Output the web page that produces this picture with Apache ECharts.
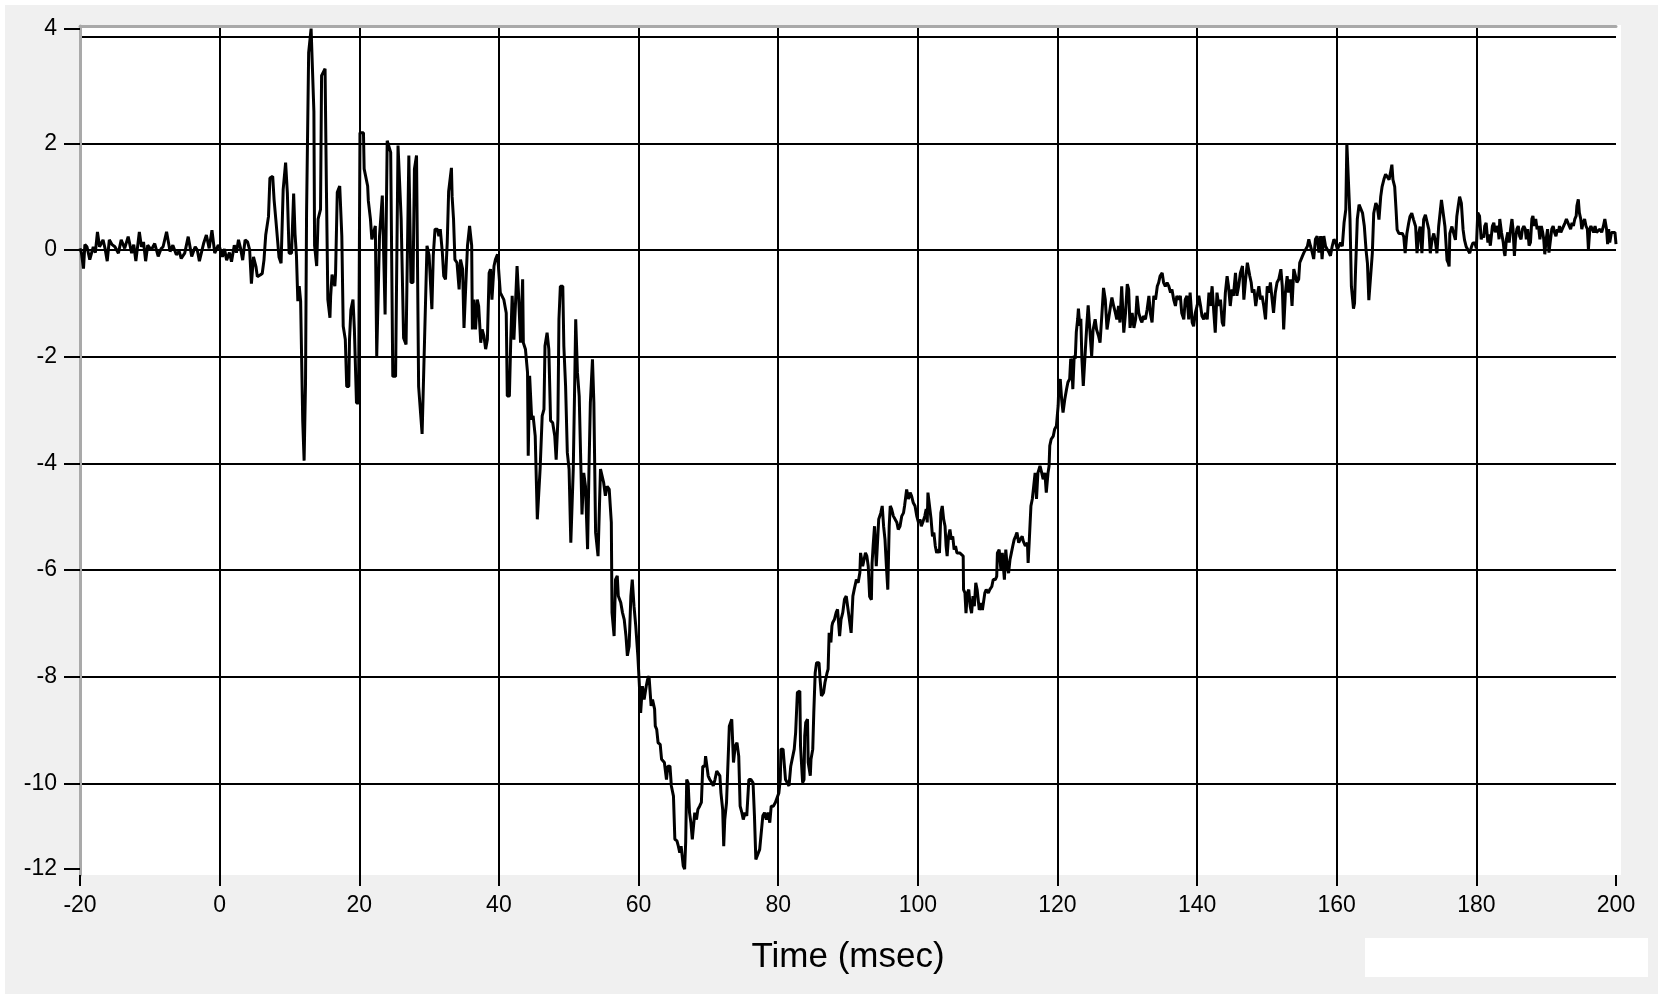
<!DOCTYPE html>
<html>
<head>
<meta charset="utf-8">
<script src="https://cdn.jsdelivr.net/npm/echarts@6/dist/echarts.min.js"></script>
<style>
html,body{margin:0;padding:0;background:#ffffff;}
#chart{width:1658px;height:994px;}
</style>
</head>
<body>
<div id="chart"></div>
<script>
// ---- DATA (time in msec, amplitude) ----
const segPre = [[-20.0,0.03],[-19.8,-0.05],[-19.5,-0.35],[-19.3,0.1],[-19.0,0.06],[-18.6,-0.18],[-18.1,0.06],[-17.8,-0.05],[-17.5,0.34],[-17.2,0.06],[-16.7,0.19],[-16.4,0.02],[-16.1,-0.21],[-15.8,0.19],[-15.4,0.1],[-15.0,0.06],[-14.5,-0.06],[-14.1,0.19],[-13.6,0.03],[-13.1,0.25],[-12.6,-0.06],[-12.3,0.1],[-12.0,-0.21],[-11.5,0.34],[-11.2,0.06],[-10.9,0.15],[-10.6,-0.21],[-10.3,0.09],[-9.8,0.0],[-9.3,0.12],[-8.8,-0.12],[-8.4,0.02],[-8.1,0.06],[-7.6,0.34],[-7.1,-0.03],[-6.7,0.09],[-6.2,-0.09],[-5.8,-0.02],[-5.5,-0.16],[-5.0,-0.06],[-4.5,0.25],[-4.0,-0.12],[-3.5,0.06],[-3.2,0.0],[-2.9,-0.21],[-2.3,0.12],[-1.9,0.28],[-1.5,0.03],[-1.1,0.37],[-0.7,-0.06],[-0.2,0.09]];

const segOnset = [[0.0,0.05],[0.4,-0.13],[0.7,0.02],[1.0,-0.19],[1.4,-0.05],[1.7,-0.22],[2.1,0.09],[2.4,-0.05],[2.7,0.19],[3.0,0.03],[3.3,-0.19],[3.65,0.19],[4.0,0.15],[4.3,0.0],[4.55,-0.63],[4.85,-0.13],[5.2,-0.31],[5.4,-0.5],[5.8,-0.47],[6.1,-0.44],[6.35,-0.19],[6.6,0.28],[6.85,0.31],[7.0,0.63],[7.2,1.35],[7.6,1.38],[7.8,0.94],[8.05,0.57],[8.3,0.54],[8.5,-0.13],[8.8,-0.25],[9.1,1.13],[9.45,1.64],[9.7,1.07],[9.95,-0.06],[10.3,-0.06],[10.6,1.06],[10.8,0.3],[11.0,-0.1],[11.2,-0.96],[11.4,-0.68],[11.6,-0.96],[11.9,-3.2],[12.1,-3.95],[12.3,-2.5],[12.45,0.7],[12.75,3.7],[13.1,4.15],[13.5,2.6],[13.6,0.08],[13.9,-0.3],[14.1,0.58],[14.45,0.76],[14.6,3.27],[15.1,3.4],[15.3,1.08],[15.5,-0.93],[15.8,-1.27],[15.9,-0.87],[16.1,-0.46],[16.5,-0.68],[16.6,-0.46],[16.85,1.08],[17.2,1.2],[17.5,0.26],[17.7,-1.43],[18.0,-1.68],[18.2,-2.56],[18.5,-2.56],[18.6,-1.68],[18.8,-1.12],[19.1,-0.93],[19.3,-1.49],[19.6,-2.87],[19.9,-2.87],[20.1,2.2],[20.6,2.2],[20.7,1.52],[21.2,1.2],[21.3,0.92],[21.6,0.58],[21.8,0.2],[22.3,0.45],[22.5,-1.99],[22.9,0.26],[23.3,1.02],[23.7,-1.21],[24.0,2.05],[24.5,1.83],[24.8,-2.37],[25.2,-2.37],[25.55,1.96],[26.0,0.58],[26.35,-1.65],[26.7,-1.77],[27.1,1.77],[27.4,-0.61],[27.7,-0.61],[27.9,1.52],[28.2,1.77],[28.5,-2.56],[29.0,-3.45],[29.25,-3.43]];

const segFall = [[29.7,0.08],[30.0,-0.1],[30.4,-1.11],[30.6,-0.1],[30.85,0.39],[31.2,0.39],[31.4,0.26],[31.6,0.39],[31.9,-0.05],[32.1,-0.49],[32.35,-0.55],[32.6,0.14],[32.8,1.1],[33.2,1.54],[33.3,1.0],[33.5,0.58],[33.7,-0.18],[34.0,-0.24],[34.3,-0.74],[34.5,-0.18],[34.8,-0.36],[35.0,-1.46],[35.25,-0.68],[35.5,0.08],[35.8,0.45],[36.1,0.08],[36.2,-1.49],[36.4,-0.93],[36.65,-1.49],[36.9,-0.93],[37.1,-1.05],[37.4,-1.74],[37.6,-1.49],[37.85,-1.61],[38.1,-1.86],[38.35,-1.68],[38.6,-0.43],[38.8,-0.36],[39.0,-0.93],[39.3,-0.3],[39.5,-0.18],[39.8,-0.08],[40.2,-0.8],[40.7,-0.93],[41.05,-1.18],[41.2,-2.74],[41.5,-2.74],[41.7,-1.68],[41.9,-0.86],[42.15,-1.68],[42.4,-0.93],[42.6,-0.3],[42.8,-0.8],[43.1,-1.74],[43.4,-0.55],[43.5,-1.74],[43.8,-1.86],[44.1,-2.3],[44.2,-3.86],[44.4,-2.36],[44.7,-3.18],[44.9,-3.11],[45.2,-3.49],[45.5,-5.05],[45.7,-5.05],[45.9,-4.11],[46.2,-3.11],[46.45,-2.99],[46.6,-1.8],[46.9,-1.55],[47.15,-1.86],[47.4,-3.2],[47.7,-3.24],[48.0,-3.49],[48.2,-3.93],[48.45,-3.18],[48.6,-1.3],[48.8,-0.68],[49.15,-0.68],[49.3,-1.8],[49.55,-2.55],[49.8,-3.8],[50.05,-4.11],[50.3,-5.49],[50.55,-5.49],[50.65,-4.11],[50.85,-2.55],[51.0,-1.3],[51.25,-2.3],[51.5,-2.74],[51.75,-4.11],[51.9,-4.96],[52.15,-4.18],[52.4,-4.43],[52.7,-5.61],[52.9,-4.11],[53.1,-2.86],[53.4,-2.05],[53.6,-2.86],[53.85,-5.3],[54.2,-5.74],[54.55,-4.11]];

const segTrough = [[55.0,-4.36],[55.25,-4.61],[55.5,-4.43],[55.8,-4.49],[56.1,-5.11],[56.2,-6.8],[56.5,-7.24],[56.7,-6.18],[56.95,-6.11],[57.1,-6.49],[57.45,-6.61],[57.7,-6.8],[57.95,-6.93],[58.2,-7.24],[58.4,-7.61],[58.65,-7.43],[58.9,-6.49],[59.1,-6.18],[59.35,-6.68],[59.6,-7.05],[59.9,-7.61],[60.1,-8.11],[60.3,-8.68],[60.55,-8.18],[60.8,-8.43],[61.1,-8.18],[61.3,-8.05],[61.5,-7.99],[61.8,-8.55],[62.0,-8.43],[62.3,-8.61],[62.4,-8.93],[62.6,-8.99],[62.8,-9.24],[63.1,-9.27],[63.3,-9.55],[63.7,-9.61],[64.0,-9.93],[64.2,-9.68],[64.5,-9.68],[64.7,-10.05],[65.0,-10.24],[65.2,-11.05],[65.5,-11.08],[65.7,-11.18],[65.9,-11.3],[66.1,-11.18],[66.4,-11.55],[66.6,-11.61],[66.75,-11.11],[66.9,-9.93],[67.1,-9.99],[67.3,-10.55],[67.5,-10.74],[67.7,-11.05],[67.9,-11.05],[68.05,-10.55],[68.3,-10.68],[68.5,-10.49],[68.75,-10.43],[69.0,-10.36],[69.2,-9.68],[69.5,-9.68],[69.6,-9.49],[69.8,-9.49],[69.97,-9.86],[70.2,-9.93],[70.5,-9.99],[70.7,-10.05],[70.95,-9.93],[71.2,-9.77],[71.4,-9.8],[71.65,-9.86],[71.8,-10.18],[72.05,-10.49],[72.2,-11.18],[72.35,-10.68],[72.6,-10.36],[72.9,-9.3],[73.0,-8.93],[73.35,-8.8],[73.6,-9.61],[73.85,-9.3],[74.1,-9.24],[74.35,-9.49],[74.55,-10.43],[74.8,-10.55],[75.0,-10.68],[75.25,-10.55],[75.5,-10.61],[75.8,-9.93],[76.1,-9.93],[76.4,-9.99],[76.6,-10.61],[76.8,-11.43],[77.0,-11.43],[77.35,-11.24],[77.55,-11.24],[77.8,-10.61],[78.05,-10.55],[78.3,-10.68],[78.55,-10.55],[78.8,-10.74],[79.0,-10.43],[79.3,-10.43],[79.6,-10.36],[79.85,-10.36],[80.1,-10.18],[80.3,-9.93],[80.4,-9.36],[80.7,-9.36],[81.05,-9.93],[81.3,-9.93],[81.55,-10.05],[81.8,-9.68],[82.05,-9.68],[82.3,-9.36],[82.5,-9.05],[82.75,-8.3],[83.1,-8.27],[83.2,-9.3],[83.5,-9.99],[83.7,-9.93],[83.8,-9.11],[83.95,-8.86],[84.2,-8.8],[84.3,-9.61],[84.6,-9.86],[84.7,-9.55],[84.95,-9.36],[85.1,-8.68],[85.3,-7.93],[85.5,-7.74],[85.85,-7.74],[86.0,-8.05],[86.2,-8.36],[86.5,-8.3],[86.7,-8.11],[87.0,-7.93],[87.15,-7.86],[87.3,-7.18],[87.55,-7.36],[87.7,-7.05],[87.8,-6.99],[88.05,-6.93],[88.3,-6.8],[88.5,-6.74],[88.8,-7.24],[89.0,-6.93],[89.25,-6.8],[89.5,-6.55],[89.75,-6.49],[90.0,-6.49],[90.2,-6.93],[90.45,-7.18],[90.7,-6.49],[90.9,-6.36],[91.2,-6.18],[91.45,-6.24],[91.7,-6.05],[91.8,-5.68]];

const segRise = [[92.1,-5.93],[92.5,-5.68],[92.7,-5.74],[92.9,-5.93],[93.1,-6.5],[93.35,-6.56],[93.45,-5.87],[93.6,-5.55],[93.8,-5.18],[94.05,-5.93],[94.2,-5.93],[94.4,-5.05],[94.7,-4.93],[94.9,-4.8],[95.1,-5.18],[95.3,-5.43],[95.5,-5.93],[95.7,-6.37],[95.9,-5.18],[96.05,-4.8],[96.25,-4.86],[96.5,-4.99],[96.75,-4.99],[97.0,-5.11],[97.2,-5.24],[97.45,-5.18],[97.7,-4.99],[97.95,-4.93],[98.1,-4.8],[98.3,-4.83],[98.4,-4.49],[98.65,-4.67],[98.9,-4.55],[99.1,-4.61],[99.35,-4.74],[99.6,-4.8],[99.85,-4.99],[100.1,-5.11],[100.3,-5.05],[100.5,-5.18],[100.7,-5.11],[101.0,-4.99],[101.2,-4.86],[101.35,-5.11],[101.45,-4.55],[101.7,-4.55],[101.9,-5.05],[102.1,-5.37],[102.3,-5.3],[102.5,-5.55],[102.7,-5.68],[102.9,-5.62],[103.1,-5.68],[103.3,-4.93],[103.5,-4.8],[103.7,-5.05],[103.9,-5.18],[104.05,-5.55],[104.2,-5.74],[104.4,-5.37],[104.6,-5.24],[104.8,-5.43],[105.0,-5.37],[105.2,-5.62],[105.4,-5.55],[105.6,-5.68],[106.0,-5.68],[106.25,-5.68],[106.5,-5.74],[106.55,-6.37],[106.75,-6.43],[106.9,-6.81],[107.1,-6.43],[107.3,-6.37],[107.5,-6.68],[107.7,-6.81],[107.9,-6.49],[108.1,-6.68],[108.3,-6.24],[108.5,-6.37],[108.8,-6.75],[109.1,-6.62],[109.25,-6.75],[109.5,-6.75],[109.6,-6.43],[109.8,-6.37],[110.1,-6.43],[110.3,-6.37],[110.6,-6.31],[110.8,-6.18],[111.1,-6.18],[111.3,-6.12],[111.4,-5.68],[111.65,-5.62],[111.9,-6.0],[112.1,-5.68],[112.4,-6.18],[112.6,-5.62],[112.8,-5.93],[113.0,-6.06],[113.2,-5.81],[113.4,-5.68],[113.6,-5.55],[113.8,-5.43],[114.0,-5.37],[114.2,-5.3],[114.45,-5.49],[114.65,-5.43],[114.95,-5.37],[115.1,-5.46],[115.4,-5.55],[115.7,-5.49],[115.8,-5.87],[115.95,-5.49],[116.2,-4.8],[116.4,-4.67],[116.6,-4.43],[116.8,-4.18],[117.0,-4.67],[117.2,-4.18],[117.4,-4.18],[117.5,-4.05],[117.75,-4.18],[117.95,-4.3],[118.2,-4.18],[118.4,-4.55],[118.65,-4.18],[118.8,-4.05],[118.9,-3.67],[119.1,-3.55],[119.4,-3.49],[119.6,-3.36],[119.85,-3.3],[120.1,-2.92],[120.2,-2.55],[120.4,-2.42],[120.6,-2.8],[120.8,-3.05],[121.05,-2.8],[121.3,-2.61],[121.5,-2.48],[121.75,-2.42],[121.9,-2.04],[122.05,-2.1],[122.2,-2.61],[122.4,-1.98],[122.55,-2.04],[122.7,-1.54],[122.9,-1.29],[123.0,-1.1],[123.2,-1.42],[123.35,-1.29],[123.5,-2.04],[123.7,-2.55],[123.95,-1.98],[124.2,-1.42],[124.4,-1.04],[124.6,-1.01],[124.9,-1.99],[125.1,-1.5],[125.4,-1.3],[125.6,-1.49],[125.9,-1.62],[126.1,-1.74]];

const segPlateau = [[126.35,-1.24],[126.6,-0.71],[126.85,-0.93],[127.1,-1.49],[127.35,-1.49],[127.6,-1.05],[127.8,-0.89],[128.05,-1.05],[128.3,-1.18],[128.5,-1.3],[128.75,-1.05],[128.95,-1.36],[129.2,-0.68],[129.5,-1.55],[129.75,-1.18],[130.0,-0.64],[130.2,-0.74],[130.4,-1.46],[130.7,-1.18],[130.95,-1.46],[131.2,-1.3],[131.4,-0.86],[131.65,-1.18],[131.9,-1.3],[132.1,-1.36],[132.3,-1.24],[132.6,-1.3],[132.85,-1.11],[133.1,-0.86],[133.3,-1.18],[133.55,-1.36],[133.8,-0.86],[134.05,-0.93],[134.3,-0.68],[134.5,-0.61],[134.7,-0.49],[135.0,-0.43],[135.2,-0.61],[135.45,-0.68],[135.7,-0.61],[135.95,-0.68],[136.2,-0.8],[136.4,-0.74],[136.65,-0.93],[136.9,-1.05],[137.1,-0.86],[137.35,-0.93],[137.6,-0.86],[137.8,-1.18],[138.1,-1.3],[138.3,-0.93],[138.55,-0.86],[138.8,-1.3],[139.0,-0.8],[139.3,-1.36],[139.5,-1.43],[139.75,-1.18],[140.0,-1.05],[140.25,-0.86],[140.5,-1.05],[140.7,-1.24],[140.95,-1.3],[141.2,-1.18],[141.45,-1.3],[141.7,-0.8],[141.9,-1.05],[142.15,-0.68],[142.4,-1.18],[142.6,-1.55],[142.85,-0.8],[143.1,-1.05],[143.35,-0.93],[143.6,-1.36],[143.8,-1.43],[144.05,-0.8],[144.3,-0.49],[144.5,-0.68],[144.75,-1.05],[145.0,-0.74],[145.2,-0.86],[145.5,-0.43],[145.7,-0.86],[145.95,-0.68],[146.2,-0.43],[146.5,-0.3],[146.7,-0.93],[146.95,-0.55],[147.2,-0.24],[147.4,-0.24],[147.55,-0.49],[147.75,-0.61],[147.9,-0.8],[148.15,-0.74],[148.4,-1.05],[148.6,-0.86],[148.85,-0.68],[149.1,-0.93],[149.3,-0.86],[149.55,-1.05],[149.8,-1.3],[150.05,-0.68],[150.3,-0.8],[150.5,-0.61],[150.75,-0.93],[150.95,-1.18],[151.2,-0.8],[151.45,-0.61],[151.7,-0.55],[152.0,-0.36],[152.2,-0.68],[152.4,-1.49],[152.65,-0.8],[152.9,-0.49],[153.1,-0.8],[153.35,-0.55],[153.6,-1.05],[153.85,-0.36],[154.1,-0.49],[154.3,-0.61],[154.55,-0.55],[154.7,-0.24],[154.9,-0.24],[155.1,-0.11],[155.3,-0.05],[155.5,-0.05],[155.8,0.07],[156.0,0.2],[156.25,0.07],[156.5,-0.05],[156.7,-0.17],[156.95,0.2],[157.2,0.26],[157.45,-0.05],[157.7,0.26],[157.9,-0.17],[158.15,0.26],[158.4,0.07],[158.65,0.01],[158.9,-0.05],[159.1,-0.11],[159.35,0.07],[159.6,0.2],[159.85,0.14],[160.1,0.01],[160.3,0.07],[160.55,0.14],[160.8,0.07]];

const segTail = [[161.05,0.51],[161.3,0.76],[161.45,2.0],[161.7,2.0],[161.9,0.58],[162.1,-0.68],[162.4,-1.1],[162.55,-1.0],[162.7,-0.36],[162.95,0.58],[163.2,0.85],[163.45,0.82],[163.7,0.69],[163.95,0.45],[164.2,0.0],[164.4,-0.25],[164.6,-0.94],[164.85,-0.94],[165.1,-0.06],[165.3,0.69],[165.6,0.88],[165.8,0.82],[166.05,0.57],[166.3,1.0],[166.5,1.19],[166.75,1.32],[167.0,1.42],[167.25,1.45],[167.5,1.32],[167.7,1.45],[167.9,1.6],[168.05,1.32],[168.3,1.19],[168.5,0.75],[168.65,0.38],[168.9,0.31],[169.15,0.31],[169.4,0.31],[169.6,0.25],[169.8,-0.06],[170.05,0.31],[170.3,0.5],[170.5,0.63],[170.75,0.69],[171.0,0.57],[171.3,0.44],[171.5,-0.06],[171.75,0.31],[171.95,0.44],[172.2,-0.06],[172.45,0.57],[172.7,0.66],[172.95,0.63],[173.2,0.38],[173.4,-0.06],[173.65,0.19],[173.9,0.31],[174.1,0.19],[174.35,-0.06],[174.6,0.44],[174.8,0.44],[175.0,0.94],[175.25,0.94],[175.5,0.44],[175.8,-0.19],[176.0,-0.25],[176.1,-0.31],[176.2,0.31],[176.5,0.44],[176.75,0.31],[177.0,0.19],[177.2,0.63],[177.4,0.82],[177.6,1.0],[177.85,0.88],[178.1,0.38],[178.3,0.19],[178.55,0.06],[178.8,0.0],[179.05,-0.06],[179.3,0.06],[179.5,0.13],[179.8,0.13],[180.0,0.03],[180.2,0.7],[180.45,0.64],[180.7,0.2],[180.85,0.29],[181.05,0.23],[181.2,0.45],[181.4,0.51],[181.65,0.14],[181.8,0.29],[182.0,0.08],[182.3,0.45],[182.5,0.51],[182.7,0.33],[182.9,0.45],[183.1,0.39],[183.25,0.2],[183.35,0.58],[183.6,0.33],[183.85,0.14],[184.0,-0.05],[184.1,-0.11],[184.3,0.2],[184.5,0.33],[184.7,0.14],[184.9,0.39],[185.1,0.58],[185.25,0.39],[185.45,-0.11],[185.6,0.2],[185.8,0.39],[186.0,0.45],[186.2,0.26],[186.4,0.2],[186.6,0.39],[186.8,0.45],[187.0,0.39],[187.15,0.2],[187.35,0.39],[187.55,0.08],[187.75,0.14],[187.95,0.58],[188.1,0.64],[188.3,0.45],[188.5,0.58],[188.7,0.39],[188.9,0.45],[189.1,0.2],[189.3,0.45],[189.5,0.33],[189.65,0.2],[189.8,-0.08],[190.0,0.2],[190.2,0.39],[190.4,-0.05],[190.6,-0.08],[190.8,0.39],[191.0,0.45],[191.2,0.33],[191.4,0.26],[191.6,0.39],[191.75,0.33],[191.9,0.45],[192.1,0.33],[192.3,0.39],[192.5,0.39],[192.7,0.51],[192.9,0.58],[193.1,0.58],[193.3,0.45],[193.5,0.39],[193.7,0.51],[193.9,0.45],[194.1,0.58],[194.3,0.64],[194.4,0.83],[194.6,0.95],[194.75,0.7],[194.95,0.58],[195.1,0.39],[195.3,0.51],[195.5,0.58],[195.7,0.45],[195.9,0.39],[196.05,0.01],[196.25,0.39],[196.4,0.45],[196.6,0.39],[196.8,0.33],[197.0,0.45],[197.2,0.33],[197.45,0.33],[197.7,0.39],[197.95,0.33],[198.2,0.45],[198.4,0.58],[198.65,0.39],[198.8,0.11],[198.95,0.39],[199.1,0.14],[199.35,0.33],[199.6,0.3],[199.85,0.33],[200.0,0.11]];

const xMin = -20, xMax = 200, xStep = 20;
const yMin = -11.72, yMax = 4.2;
const yTickValues = [4.15, 2, 0, -2, -4, -6, -8, -10, -11.6];
const xAxisTitle = 'Time (msec)';

// ---- FONT PICK (narrow face if the system has one) ----
function hasFont(name) {
  const ctx = document.createElement('canvas').getContext('2d');
  const s = 'mmmmmmmmmmlli-0123456789 Time (msec)';
  return ['monospace', 'serif'].some(b => {
    ctx.font = '72px ' + b;
    const w0 = ctx.measureText(s).width;
    ctx.font = "72px '" + name + "', " + b;
    return Math.abs(ctx.measureText(s).width - w0) > 0.5;
  });
}
let FONT, LABEL_SIZE, TITLE_SIZE;
if (hasFont('Liberation Sans Narrow')) {
  FONT = "'Liberation Sans Narrow', sans-serif"; LABEL_SIZE = 25; TITLE_SIZE = 40;
} else {
  FONT = "'Liberation Sans', Arial, sans-serif"; LABEL_SIZE = 23; TITLE_SIZE = 35;
}

// ---- CHART ----
const samples = [].concat(segPre, segOnset, segFall, segTrough, segRise, segPlateau, segTail);

const chart = echarts.init(document.getElementById('chart'), null, {renderer: 'canvas'});
chart.setOption({
  animation: false,
  backgroundColor: '#ffffff',
  graphic: [
    {type: 'rect', silent: true, z: -100, shape: {x: 5, y: 5, width: 1653, height: 989}, style: {fill: '#f0f0f0'}},
    {type: 'rect', silent: true, z: -99, shape: {x: 80, y: 25, width: 1541, height: 850}, style: {fill: '#ffffff'}},
    {type: 'rect', silent: true, z: -98, shape: {x: 1365, y: 938, width: 283, height: 39}, style: {fill: '#ffffff'}}
  ],
  grid: {left: 80, right: 42, top: 26, bottom: 119, containLabel: false},
  xAxis: [
    {
      type: 'value', position: 'bottom', min: xMin, max: xMax, interval: xStep,
      axisLine: {show: false, onZero: false},
      axisTick: {show: true, length: 11, lineStyle: {color: '#000', width: 2}},
      axisLabel: {color: '#000', fontSize: LABEL_SIZE, fontFamily: FONT, margin: 19},
      splitLine: {show: true, showMinLine: false, showMaxLine: false, lineStyle: {color: '#000', width: 2}},
      name: xAxisTitle, nameLocation: 'middle', nameGap: 65,
      nameTextStyle: {color: '#000', fontSize: TITLE_SIZE, fontFamily: FONT}
    },
    {
      type: 'value', position: 'top', min: xMin, max: xMax,
      axisLine: {show: true, onZero: false, lineStyle: {color: '#a9a9a9', width: 3}},
      axisTick: {show: false}, axisLabel: {show: false}, splitLine: {show: false}
    }
  ],
  yAxis: [
    {
      type: 'value', position: 'left', min: yMin, max: yMax, splitNumber: 8,
      axisLine: {show: true, onZero: false, lineStyle: {color: '#a9a9a9', width: 3}},
      axisTick: {show: false}, axisLabel: {show: false},
      splitLine: {show: true, showMinLine: false, showMaxLine: false, lineStyle: {color: '#000', width: 2}}
    },
    {
      type: 'value', position: 'left', min: yMin, max: yMax, splitNumber: 8,
      axisLine: {show: false, onZero: false},
      axisTick: {show: true, length: 16, customValues: yTickValues, lineStyle: {color: '#000', width: 2}},
      axisLabel: {show: true, customValues: yTickValues, color: '#000', fontSize: LABEL_SIZE, fontFamily: FONT, margin: 23,
        formatter: v => String(Math.round(v))},
      splitLine: {show: false}
    }
  ],
  series: [{
    type: 'line', xAxisIndex: 0, yAxisIndex: 0, data: samples,
    showSymbol: false, symbol: 'none', clip: true,
    lineStyle: {color: '#000', width: 3},
    emphasis: {disabled: true}
  }]
});
</script>
</body>
</html>
